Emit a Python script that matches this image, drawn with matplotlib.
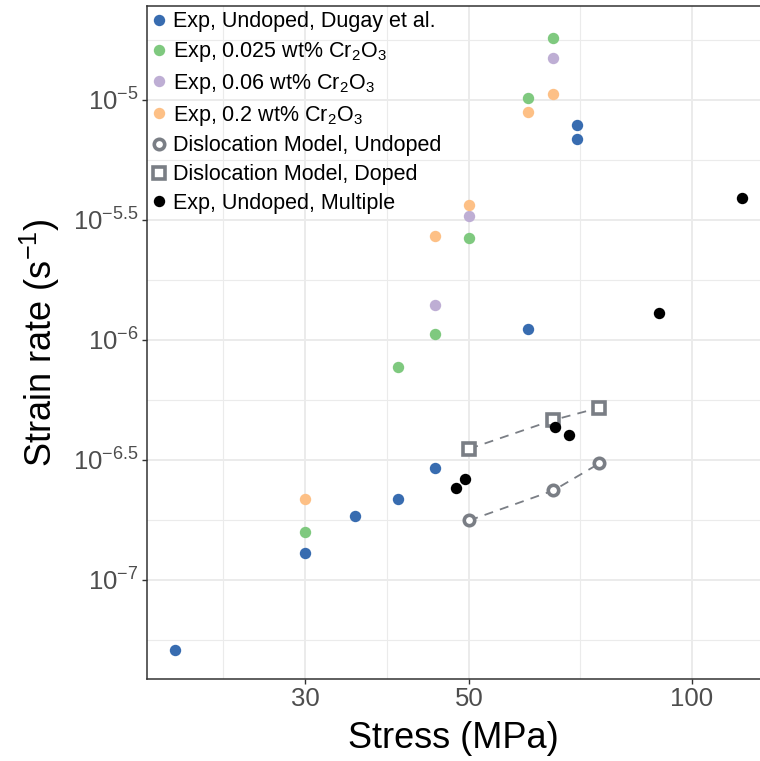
import matplotlib
matplotlib.use("Agg")
import matplotlib.pyplot as plt
from matplotlib.ticker import FixedLocator, NullFormatter

plt.rcParams['font.family'] = ['Liberation Sans', 'DejaVu Sans']
plt.rcParams['mathtext.fontset'] = 'custom'
plt.rcParams['mathtext.rm'] = 'Liberation Sans'
plt.rcParams['mathtext.it'] = 'Liberation Sans:italic'
plt.rcParams['mathtext.bf'] = 'Liberation Sans:bold'

# undoped, Dugay et al.
undoped_stress = [20, 30, 35, 40, 45, 60, 70, 70]
undoped_rate = [5.1e-8, 1.29e-7, 1.85e-7, 2.18e-7, 2.92e-7, 1.11e-6, 7.87e-6, 6.86e-6]

# 0.025 wt% Cr2O3
cr025_stress = [30, 40, 45, 50, 60, 65]
cr025_rate = [1.58e-7, 7.74e-7, 1.06e-6, 2.67e-6, 1.02e-5, 1.81e-5]

# 0.06 wt% Cr2O3
cr06_stress = [45, 50, 65]
cr06_rate = [1.40e-6, 3.29e-6, 1.50e-5]

# 0.2 wt% Cr2O3
cr2_stress = [30, 45, 50, 60, 65]
cr2_rate = [2.18e-7, 2.72e-6, 3.66e-6, 8.88e-6, 1.056e-5]

# dislocation model
model_stress = [50, 65, 75]
model_undoped_rate = [1.77e-7, 2.36e-7, 3.06e-7]
model_doped_rate = [3.52e-7, 4.64e-7, 5.22e-7]

# undoped, multiple sources
multi_stress = [48.0, 49.3, 65.4, 68.2, 90.2, 116.9]
multi_rate = [2.41e-7, 2.64e-7, 4.35e-7, 4.03e-7, 1.30e-6, 3.92e-6]

x_ticks = [30, 50, 100]
x_minor = [23.2, 38.7, 70.7]
y_exps = [-7, -6.5, -6, -5.5, -5]
y_minor_exps = [-7.25, -6.75, -6.25, -5.75, -5.25, -4.75]

blue = '#386cb0'
green = '#7fc97f'
purple = '#beaed4'
orange = '#fdc086'
model_gray = '#7a7e85'

fig = plt.figure(figsize=(7.6, 7.61), dpi=100)
ax = fig.add_axes([0.1934, 0.1078, 0.8066, 0.8844])

ms = 8.2
ax.plot(undoped_stress, undoped_rate, 'o', color=blue, ms=ms, mew=0,
        label='Exp, Undoped, Dugay et al.', zorder=3)
ax.plot(cr025_stress, cr025_rate, 'o', color=green, ms=ms, mew=0,
        label='Exp, 0.025 wt% Cr$_2$O$_3$', zorder=3)
ax.plot(cr06_stress, cr06_rate, 'o', color=purple, ms=ms, mew=0,
        label='Exp, 0.06 wt% Cr$_2$O$_3$', zorder=3)
ax.plot(cr2_stress, cr2_rate, 'o', color=orange, ms=ms, mew=0,
        label='Exp, 0.2 wt% Cr$_2$O$_3$', zorder=3)

ax.plot(model_stress, model_undoped_rate, '--', color=model_gray, lw=1.3,
        dashes=(5, 4), zorder=2)
ax.plot(model_stress, model_doped_rate, '--', color=model_gray, lw=1.3,
        dashes=(5, 4), zorder=2)
ax.plot(model_stress, model_undoped_rate, 'o', mfc='white', mec=model_gray,
        ms=7.5, mew=2.6, label='Dislocation Model, Undoped', zorder=3)
ax.plot(model_stress, model_doped_rate, 's', mfc='white', mec=model_gray,
        ms=8.0, mew=2.6, label='Dislocation Model, Doped', zorder=3)

ax.plot(multi_stress, multi_rate, 'o', color='black', ms=ms, mew=0,
        label='Exp, Undoped, Multiple', zorder=3)

ax.set_xscale('log')
ax.set_yscale('log')
ax.set_xlim(18.32, 123.7)
ax.set_ylim(10 ** -7.4125, 10 ** -4.6083)

ax.xaxis.set_major_locator(FixedLocator(x_ticks))
ax.xaxis.set_minor_locator(FixedLocator(x_minor))
ax.set_xticklabels([str(t) for t in x_ticks])
ax.xaxis.set_minor_formatter(NullFormatter())
ax.yaxis.set_major_locator(FixedLocator([10 ** e for e in y_exps]))
ax.yaxis.set_minor_locator(FixedLocator([10 ** e for e in y_minor_exps]))
ax.set_yticklabels(['$10^{%s}$' % (('%g' % e).replace('-', '\u2212')) for e in y_exps])
ax.yaxis.set_minor_formatter(NullFormatter())

ax.grid(which='major', color='#ebebeb', lw=1.4, zorder=0)
ax.grid(which='minor', color='#ebebeb', lw=0.8, zorder=0)
ax.set_axisbelow(True)

ax.tick_params(which='major', length=3.5, width=1, color='#333333',
               labelsize=18.5, labelcolor='#4d4d4d', pad=2.5)
ax.tick_params(which='minor', length=0)
for side in ['left', 'bottom', 'top']:
    ax.spines[side].set_color('#333333')
    ax.spines[side].set_linewidth(1.1)
ax.spines['right'].set_visible(False)

ax.set_xlabel('Stress (MPa)', fontsize=26, labelpad=7)
ax.set_ylabel('Strain rate (s$^{\u22121}$)', fontsize=26, labelpad=8)

ax.legend(loc='upper left', frameon=False, fontsize=15.5, handlelength=0.6,
          handletextpad=0.35, labelspacing=0.36, borderaxespad=0.1,
          borderpad=0.15)

fig.savefig('out.png', dpi=100)
